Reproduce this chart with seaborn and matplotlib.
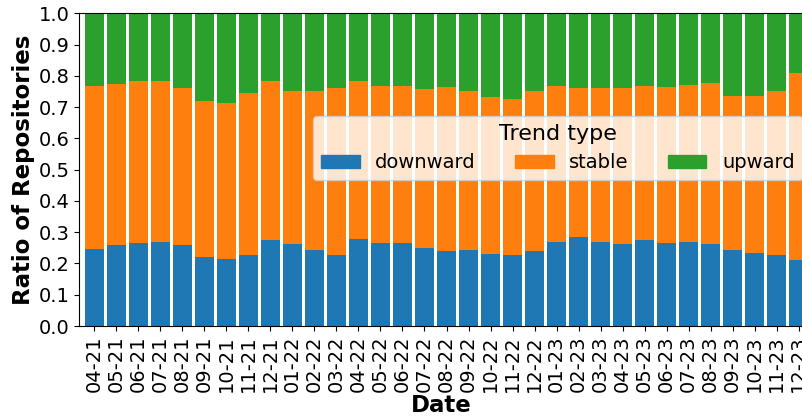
import matplotlib
matplotlib.use("Agg")
import matplotlib.pyplot as plt
import matplotlib.patches as mpatches
import seaborn as sns
import pandas as pd
import numpy as np

dates = ["04-21", "05-21", "06-21", "07-21", "08-21", "09-21", "10-21", "11-21", "12-21",
         "01-22", "02-22", "03-22", "04-22", "05-22", "06-22", "07-22", "08-22", "09-22",
         "10-22", "11-22", "12-22", "01-23", "02-23", "03-23", "04-23", "05-23", "06-23",
         "07-23", "08-23", "09-23", "10-23", "11-23", "12-23"]

downward = [0.247, 0.259, 0.265, 0.269, 0.259, 0.220, 0.214, 0.227, 0.276,
            0.262, 0.243, 0.227, 0.278, 0.265, 0.265, 0.249, 0.239, 0.244,
            0.230, 0.227, 0.239, 0.268, 0.284, 0.268, 0.262, 0.275, 0.265,
            0.268, 0.262, 0.243, 0.233, 0.227, 0.212]

stable = [0.522, 0.514, 0.518, 0.514, 0.501, 0.501, 0.498, 0.517, 0.509,
          0.491, 0.510, 0.533, 0.507, 0.504, 0.504, 0.508, 0.524, 0.506,
          0.501, 0.498, 0.511, 0.498, 0.476, 0.492, 0.498, 0.494, 0.498,
          0.504, 0.514, 0.494, 0.504, 0.523, 0.596]

upward = [round(1 - d - s, 3) for d, s in zip(downward, stable)]

trend_types = ["downward", "stable", "upward"]
colors = ["#1f77b4", "#ff7f0e", "#2ca02c"]

df = pd.DataFrame({"Date": dates, "downward": downward, "stable": stable, "upward": upward})
df["cum_stable"] = df["downward"] + df["stable"]
df["cum_upward"] = df["cum_stable"] + df["upward"]

plt.rcParams["font.family"] = ["DejaVu Sans"]
fig = plt.figure(figsize=(8.03, 4.19), dpi=100)
ax = fig.add_axes([79 / 803, 93 / 419, 724 / 803, 312.7 / 419])

for col, color in zip(["cum_upward", "cum_stable", "downward"], colors[::-1]):
    sns.barplot(data=df, x="Date", y=col, color=color, width=0.9, ax=ax,
                linewidth=0, saturation=1.0, errorbar=None)

ax.set_xlim(-0.7, 32.2)
ax.set_ylim(0, 1.0)
ax.set_yticks(np.arange(0, 1.01, 0.1))
ax.set_yticklabels([f"{v:.1f}" for v in np.arange(0, 1.01, 0.1)], fontsize=14)
ax.tick_params(axis="x", labelrotation=90, labelsize=14)
ax.set_xlabel("Date", fontsize=16.5, fontweight="bold", labelpad=1)
ax.set_ylabel("Ratio of Repositories", fontsize=16.5, fontweight="bold", labelpad=2)

handles = [mpatches.Patch(color=c, label=t) for c, t in zip(colors, trend_types)]
fig.legend(handles=handles, title="Trend type", ncol=3, fontsize=14, title_fontsize=16,
           loc="upper left", bbox_to_anchor=(313 / 803, 303 / 419),
           bbox_transform=fig.transFigure, borderaxespad=0)

fig.savefig("out.png", dpi=100)
